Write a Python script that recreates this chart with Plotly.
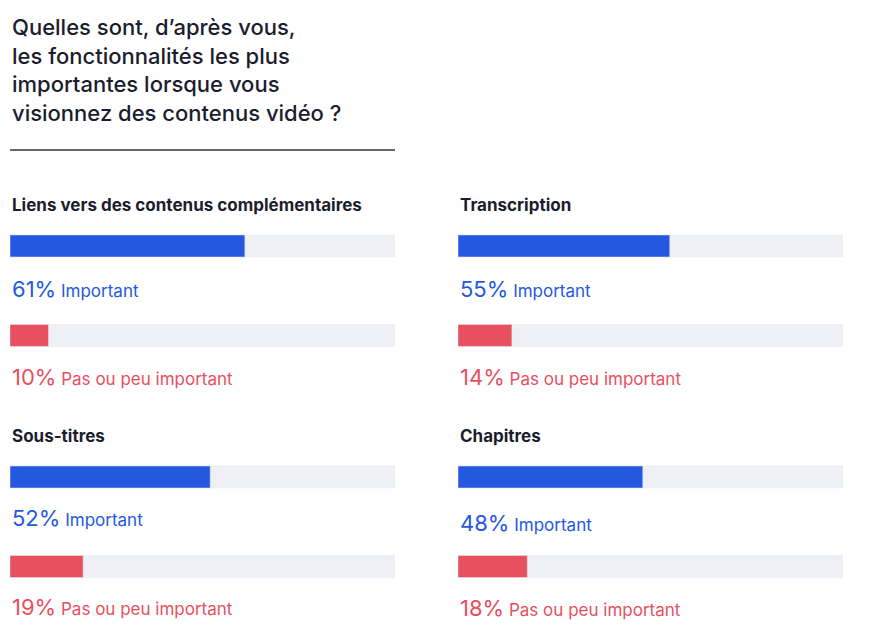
import plotly.graph_objects as go

W, H = 870, 640
OX, OY = 8, 8  # page offset seen in the rendered output
groups = ["Liens vers des contenus complémentaires", "Transcription", "Sous-titres", "Chapitres"]
important = [61, 55, 52, 48]
pas_important = [10, 14, 19, 18]

BLUE, RED, GREY, DARK = "#2458e0", "#e8505f", "#eef0f6", "#1b1d2e"


def px(x):
    return (x - OX) / W


def py(y):
    return 1 - (y - OY) / H


# pixel boxes per panel: (x0, x1, top of range, bottom of range, label y's)
panels = [
    (10, 395, 201.25, 380.25, 289, 377),
    (458, 843, 201.25, 380.25, 289, 377),
    (10, 395, 432.25, 611.25, 518, 607),
    (458, 843, 432.25, 611.25, 523, 608),
]
title_y = [205, 205, 436, 436]

fig = go.Figure()
annotations = []
for i, (x0, x1, yt, yb, ly1, ly2) in enumerate(panels):
    xa = "x" if i == 0 else f"x{i+1}"
    ya = "y" if i == 0 else f"y{i+1}"
    fig.add_trace(go.Bar(x=[100, 100], y=[0, 1], orientation="h", marker_color=GREY,
                         width=0.246, xaxis=xa, yaxis=ya, hoverinfo="skip"))
    fig.add_trace(go.Bar(x=[important[i], pas_important[i]], y=[0, 1], orientation="h",
                         marker_color=[BLUE, RED], width=0.246, xaxis=xa, yaxis=ya))
    key = "" if i == 0 else str(i + 1)
    fig.layout["xaxis" + key] = dict(domain=[px(x0), px(x1)], range=[0, 100], visible=False,
                                     fixedrange=True)
    fig.layout["yaxis" + key] = dict(domain=[py(yb), py(yt)], range=[1.5, -0.5],
                                     visible=False, fixedrange=True)
    annotations.append(dict(x=px(x0), y=py(title_y[i]), text=f"<b>{groups[i]}</b>",
                            font=dict(size=17, color=DARK)))
    annotations.append(dict(x=px(x0), y=py(ly1),
                            text=f"<span style='font-size:22px'>{important[i]}%</span> Important",
                            font=dict(size=17, color=BLUE)))
    annotations.append(dict(x=px(x0), y=py(ly2),
                            text=f"<span style='font-size:22px'>{pas_important[i]}%</span> Pas ou peu important",
                            font=dict(size=17, color=RED)))

for a in annotations:
    a.update(xref="paper", yref="paper", xanchor="left", yanchor="middle", showarrow=False)

annotations.append(dict(xref="paper", yref="paper", x=px(10), y=py(12), xanchor="left",
                        yanchor="top", showarrow=False, align="left",
                        text="Quelles sont, d’après vous,<br>les fonctionnalités les plus<br>"
                             "importantes lorsque vous<br>visionnez des contenus vidéo ?",
                        font=dict(size=22, color=DARK, weight=500)))

fig.update_layout(
    width=W, height=H, margin=dict(l=0, r=0, t=0, b=0), barmode="overlay",
    showlegend=False, plot_bgcolor="white", paper_bgcolor="white",
    font=dict(family="Inter, Roboto, sans-serif"), annotations=annotations,
    shapes=[dict(type="line", xref="paper", yref="paper", x0=px(10), x1=px(395),
                 y0=py(150), y1=py(150), line=dict(color="#333344", width=1.5))],
)
fig.write_html("out.html")
